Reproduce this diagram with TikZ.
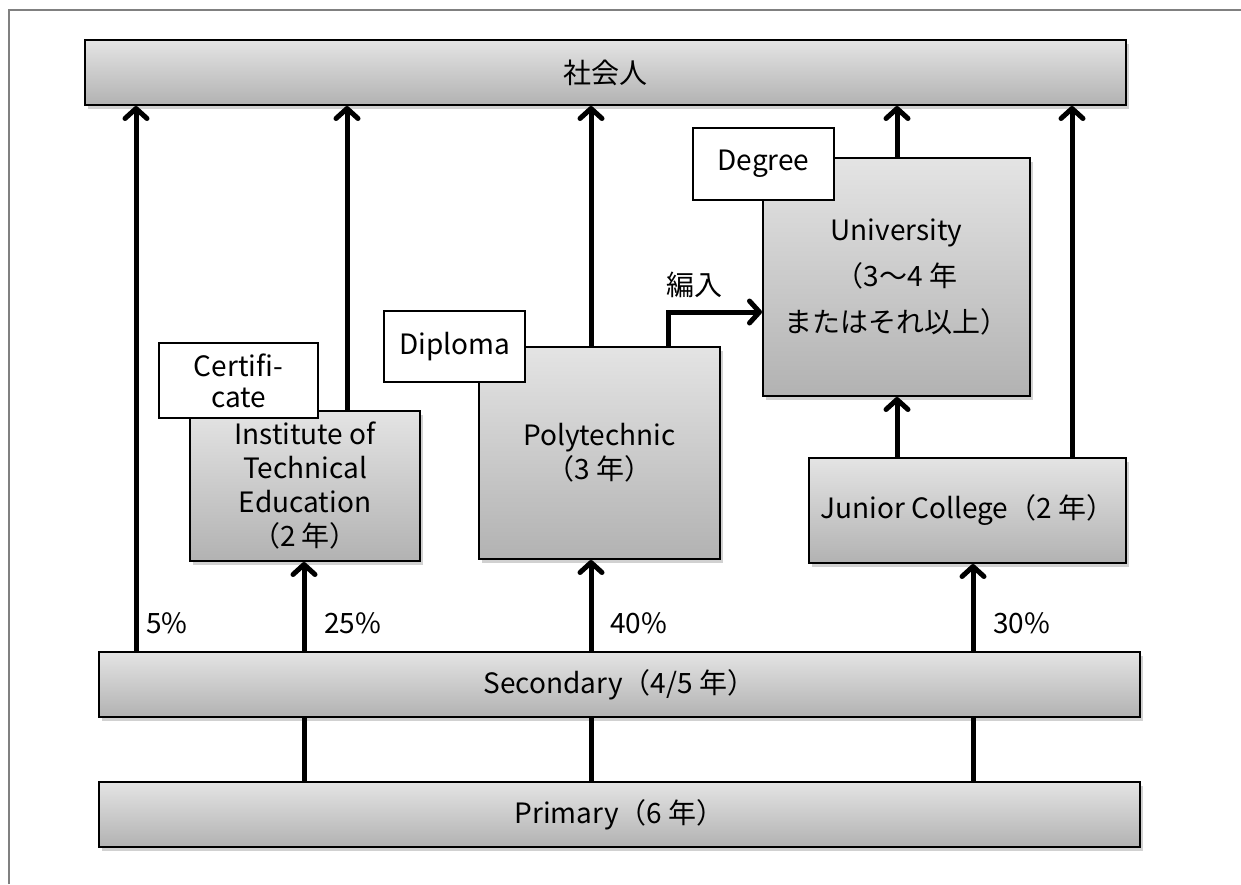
\documentclass[tikz,border=0pt]{standalone}
\usepackage{fontspec}
\setmainfont{Noto Sans CJK JP}
\usepackage{tikz}
\usetikzlibrary{arrows.meta,shapes,positioning,shadows}
\usepackage{xcolor}
\definecolor{boxtop}{RGB}{228, 228, 228}
\definecolor{boxbottom}{RGB}{178, 178, 178}
\definecolor{framegray}{RGB}{128, 128, 128}
\tikzstyle{box} = [draw=black, line width=1pt, top color=boxtop, bottom color=boxbottom,
  drop shadow={shadow xshift=1.5pt, shadow yshift=-2pt, fill=black, opacity=0.18},
  align=center, inner sep=0pt, font=\fontsize{14pt}{17pt}\selectfont]
\tikzstyle{tagbox} = [draw=black, line width=0.6pt, fill=white, align=center,
  inner sep=0pt, font=\fontsize{14pt}{15.5pt}\selectfont]
\tikzstyle{arrow} = [line width=2.5pt, -{Straight Barb[length=5pt,width=11pt,round]}]
\tikzstyle{link} = [line width=2.5pt]
\tikzstyle{share} = [font=\fontsize{14pt}{17pt}\selectfont, anchor=west, inner sep=0pt]

\begin{document}
\begin{tikzpicture}[x=0.5pt, y=-0.5pt]
    \useasboundingbox (0,0) rectangle (1241,884);

    % Frame
    \draw[framegray, line width=0.8pt] (9,884) -- (9,10) -- (1241,10);

    % Boxes
    \node[box, minimum width=520.5pt, minimum height=32.5pt] (work) at (605.5,72.5) {社会人};
    \node[box, minimum width=520.5pt, minimum height=32.5pt] (secondary) at (619.5,684.5) {Secondary（4/5 年）};
    \node[box, minimum width=520.5pt, minimum height=32.5pt] (primary) at (619.5,814.5) {Primary（6 年）};
    \node[box, minimum width=115pt, minimum height=75pt] (ite) at (305,486)
        {Institute of\\Technical\\Education\\（2 年）};
    \node[box, minimum width=120.5pt, minimum height=106pt] (poly) at (599.5,453)
        {Polytechnic\\（3 年）};
    \node[box, minimum width=133.5pt, minimum height=119pt] (univ) at (896.5,277)
        {University\\[6pt]（3〜4 年\\[6pt]またはそれ以上）};
    \node[box, minimum width=158.5pt, minimum height=52.5pt] (jc) at (967.5,510.5)
        {Junior College（2 年）};

    % Award tags
    \node[tagbox, minimum width=79.5pt, minimum height=37.5pt] (cert) at (238.5,380.5) {Certifi-\\cate};
    \node[tagbox, minimum width=70.5pt, minimum height=35.5pt] (diploma) at (454.5,346.5) {Diploma};
    \node[tagbox, minimum width=70.5pt, minimum height=36pt] (degree) at (763.5,164) {Degree};

    % Arrow columns
    \coordinate (c5) at (136,0);
    \coordinate (c25) at (304,0);
    \coordinate (cite) at (347,0);
    \coordinate (c40) at (591,0);
    \coordinate (cxfer) at (668,312);
    \coordinate (cuni) at (897,0);
    \coordinate (c30) at (973,0);
    \coordinate (cjc) at (1072,0);

    % Primary to secondary
    \draw[link] (primary.north -| c25) -- (secondary.south -| c25);
    \draw[link] (primary.north -| c40) -- (secondary.south -| c40);
    \draw[link] (primary.north -| c30) -- (secondary.south -| c30);

    % Secondary onwards
    \draw[arrow] (secondary.north -| c5) -- (work.south -| c5);
    \draw[arrow] (secondary.north -| c25) -- (ite.south -| c25);
    \draw[arrow] (secondary.north -| c40) -- (poly.south -| c40);
    \draw[arrow] (secondary.north -| c30) -- (jc.south -| c30);

    % Into work
    \draw[arrow] (ite.north -| cite) -- (work.south -| cite);
    \draw[arrow] (poly.north -| c40) -- (work.south -| c40);
    \draw[arrow] (univ.north -| cuni) -- (work.south -| cuni);
    \draw[arrow] (jc.north -| cjc) -- (work.south -| cjc);

    % Into university
    \draw[arrow] (jc.north -| cuni) -- (univ.south -| cuni);
    \draw[arrow] (poly.north -| cxfer) -- (cxfer) -- (univ.west |- cxfer)
        node[pos=0, above right, inner sep=0pt, yshift=6pt, xshift=-2pt,
             font=\fontsize{14pt}{17pt}\selectfont] (xferlabel) {編入};

    % Shares
    \node[share] (s5) at (146,623) {5\%};
    \node[share] (s25) at (324,623) {25\%};
    \node[share] (s40) at (610,623) {40\%};
    \node[share] (s30) at (993,623) {30\%};
\end{tikzpicture}
\end{document}
